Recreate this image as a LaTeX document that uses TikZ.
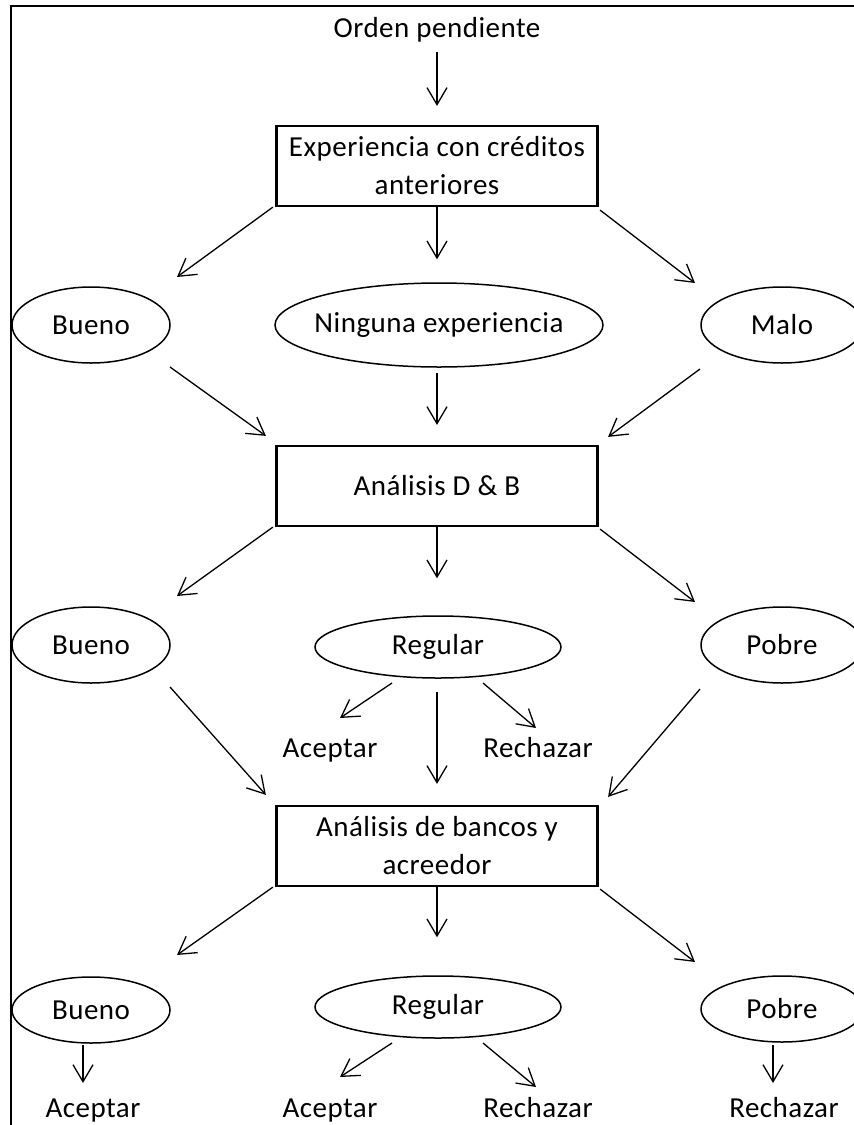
\documentclass[tikz,border=0pt]{standalone}
\usepackage{fontspec}
\setmainfont{Carlito}[LetterSpace=1.7]
\usetikzlibrary{arrows.meta,shapes.geometric}
\begin{document}
\begin{tikzpicture}[x=1pt,y=-1pt,
  every node/.style={font=\fontsize{29}{38}\selectfont},
  conn/.style={line width=1.3pt,-{Straight Barb[length=17pt,width=20pt,line width=1.3pt]}},
  boxnode/.style={draw,line width=2.2pt,minimum width=321pt,minimum height=80pt,align=center,inner sep=0pt},
  ell/.style={draw,ellipse,line width=1.5pt,inner sep=0pt},
  lbl/.style={inner sep=0pt,anchor=base}]
\clip (0,0) rectangle (854,1125);
\fill[white] (0,0) rectangle (854,1125);
\draw[line width=2pt] (11,1140) -- (11,6) -- (870,6);

% nodes
\node[lbl] (op) at (437,37) {Orden pendiente};
\node[boxnode] (b1) at (437,166) {Experiencia con créditos\\anteriores};
\node[ell,minimum width=158pt,minimum height=76pt,label={center:Bueno}] (e1) at (91,325) {};
\node[ell,minimum width=328pt,minimum height=84pt,label={center:Ninguna experiencia}] (e2) at (439,325) {};
\node[ell,minimum width=162pt,minimum height=76pt,label={center:Malo}] (e3) at (782,325) {};
\node[boxnode] (b2) at (437,486) {Análisis D \& B};
\node[ell,minimum width=158pt,minimum height=76pt,label={center:Bueno}] (f1) at (91,645) {};
\node[ell,minimum width=246pt,minimum height=62pt,label={center:Regular}] (f2) at (438,647) {};
\node[ell,minimum width=162pt,minimum height=76pt,label={center:Pobre}] (f3) at (782,645) {};
\node[lbl] (ra) at (330,757) {Aceptar};
\node[lbl] (rr) at (538,757) {Rechazar};
\node[boxnode] (b3) at (437,846) {Análisis de bancos y\\acreedor};
\node[ell,minimum width=158pt,minimum height=66pt,label={center:Bueno}] (g1) at (91,1010) {};
\node[ell,minimum width=246pt,minimum height=62pt,label={center:Regular}] (g2) at (438,1007) {};
\node[ell,minimum width=162pt,minimum height=66pt,label={center:Pobre}] (g3) at (782,1009) {};
\node[lbl] (h1) at (93,1117) {Aceptar};
\node[lbl] (h2) at (330,1117) {Aceptar};
\node[lbl] (h3) at (538,1117) {Rechazar};
\node[lbl] (h4) at (784,1117) {Rechazar};

% connectors
\draw[conn] ([shift={(0,15)}]op.base) -- ([shift={(0,-19)}]b1.north);
\draw[conn] ([shift={(-2.5,0)}]b1.south west) -- ([shift={(86,-48)}]e1.center);
\draw[conn] (b1.south) -- ([shift={(-2,-23)}]e2.north);
\draw[conn] ([shift={(1.5,3)}]b1.south east) -- ([shift={(-87,-42)}]e3.center);

\draw[conn] ([shift={(79,42)}]e1.center) -- ([shift={(-9.5,-9)}]b2.north west);
\draw[conn] ([shift={(-2,5)}]e2.south) -- ([shift={(0,-20)}]b2.north);
\draw[conn] ([shift={(-82,44)}]e3.center) -- ([shift={(9.5,-8)}]b2.north east);

\draw[conn] ([shift={(-2.5,0)}]b2.south west) -- ([shift={(86,-49)}]f1.center);
\draw[conn] (b2.south) -- ([shift={(-1,-37)}]f2.north);
\draw[conn] ([shift={(1.5,2)}]b2.south east) -- ([shift={(-87,-43)}]f3.center);

\draw[conn] ([shift={(-46,36)}]f2.center) -- ([shift={(10,-39)}]ra.base);
\draw[conn] ([shift={(45,36)}]f2.center) -- ([shift={(-2,-29)}]rr.base);
\draw[conn] ([shift={(-1,13)}]f2.south) -- ([shift={(0,-21)}]b3.north);
\draw[conn] ([shift={(79,42)}]f1.center) -- ([shift={(-9.5,-10)}]b3.north west);
\draw[conn] ([shift={(-82,44)}]f3.center) -- ([shift={(9.5,-8)}]b3.north east);

\draw[conn] ([shift={(-2.5,0)}]b3.south west) -- ([shift={(86,-55)}]g1.center);
\draw[conn] (b3.south) -- ([shift={(-1,-38)}]g2.north);
\draw[conn] ([shift={(1.5,2)}]b3.south east) -- ([shift={(-87,-47)}]g3.center);

\draw[conn] ([shift={(-8,1)}]g1.south) -- ([shift={(-10,-34)}]h1.base);
\draw[conn] ([shift={(-46,36)}]g2.center) -- ([shift={(10,-40)}]h2.base);
\draw[conn] ([shift={(45,36)}]g2.center) -- ([shift={(-2,-30)}]h3.base);
\draw[conn] ([shift={(-9,2)}]g3.south) -- ([shift={(-11,-34)}]h4.base);
\end{tikzpicture}
\end{document}
